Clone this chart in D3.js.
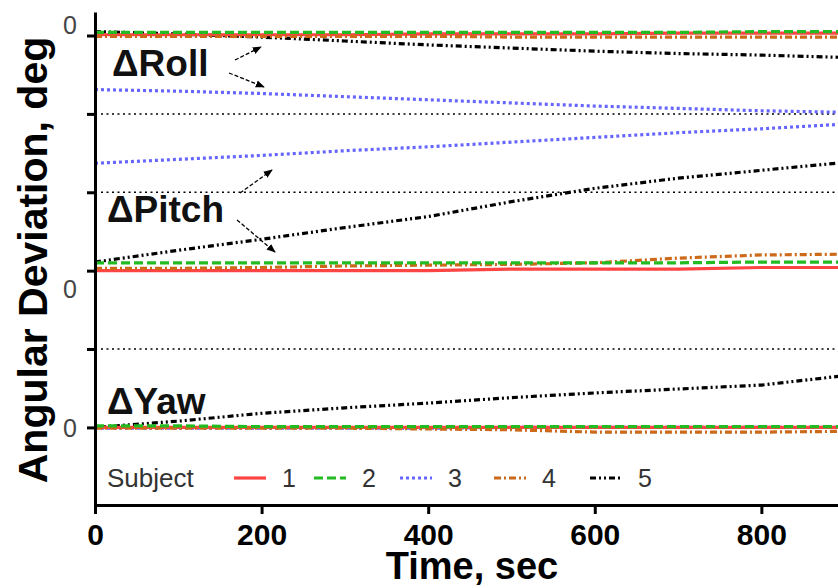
<!DOCTYPE html>
<html>
<head>
<meta charset="utf-8">
<script src="https://cdn.jsdelivr.net/npm/d3@7"></script>
<style>
  body { margin: 0; background: #fff; }
  svg { display: block; font-family: Arial, "Liberation Sans", sans-serif; }
</style>
</head>
<body>
<div id="chart"></div>
<script>
// Define SVG area size
var svgWidth = 838;
var svgHeight = 588;

// plot area (the right side is cut off in the original)
var margin = { top: 12, right: 0, bottom: 83, left: 95 };
var width = svgWidth - margin.left - margin.right;
var height = svgHeight - margin.top - margin.bottom;

// time points, sec
var times = [0, 100, 200, 300, 400, 500, 600, 700, 800, 900];

// stacked offsets: roll zero at 5, pitch zero at 2, yaw zero at 0 (1 tick = 1 unit)
var rollS1 = [5.01, 5.01, 5.01, 5.01, 5.02, 5.02, 5.02, 5.03, 5.03, 5.03];
var rollS2 = [5.04, 5.04, 5.04, 5.04, 5.04, 5.04, 5.04, 5.04, 5.05, 5.05];
var rollS3 = [4.31, 4.29, 4.26, 4.22, 4.18, 4.14, 4.10, 4.07, 4.04, 4.02];
var rollS4 = [4.99, 4.99, 4.99, 4.99, 4.99, 4.98, 4.98, 4.98, 4.98, 4.98];
var rollS5 = [5.05, 5.02, 4.98, 4.93, 4.88, 4.84, 4.80, 4.77, 4.75, 4.72];

var pitchS1 = [2.00, 2.00, 2.00, 2.00, 2.00, 2.02, 2.02, 2.02, 2.04, 2.04];
var pitchS2 = [2.10, 2.10, 2.10, 2.10, 2.10, 2.10, 2.10, 2.10, 2.11, 2.11];
var pitchS3 = [3.37, 3.42, 3.47, 3.53, 3.58, 3.64, 3.70, 3.76, 3.81, 3.87];
var pitchS4 = [2.03, 2.03, 2.04, 2.06, 2.07, 2.08, 2.10, 2.16, 2.20, 2.21];
var pitchS5 = [2.11, 2.26, 2.40, 2.55, 2.69, 2.88, 3.05, 3.18, 3.28, 3.38];

var yawS1 = [0.00, 0.00, 0.00, 0.00, 0.00, 0.00, 0.00, 0.00, 0.00, 0.00];
var yawS2 = [0.02, 0.02, 0.01, 0.01, 0.01, 0.01, 0.01, 0.01, 0.01, 0.01];
var yawS3 = [-0.01, -0.01, -0.01, -0.01, -0.01, 0.00, 0.00, 0.00, 0.00, 0.00];
var yawS4 = [-0.01, -0.01, -0.01, -0.01, -0.02, -0.03, -0.06, -0.06, -0.06, -0.05];
var yawS5 = [0.00, 0.08, 0.18, 0.25, 0.31, 0.38, 0.44, 0.49, 0.54, 0.66];

var subjects = ["1", "2", "3", "4", "5"];
var colors = ["#ff4444", "#22bb22", "#6666ff", "#cc6a1a", "#000000"];
var dashes = ["none", "9,4", "3,3", "7,3,2,3", "6,3,2,3,2,3"];

var xTicks = [0, 200, 400, 600, 800];
var yTicks = [0, 1, 2, 3, 4, 5];
var gridTicks = [1, 3, 4];
var zeroTicks = [5, 2, 0];
var zeroLabels = ["0", "0", "0"];

var allSeries = [
  [rollS1, rollS2, rollS3, rollS4, rollS5],
  [pitchS1, pitchS2, pitchS3, pitchS4, pitchS5],
  [yawS1, yawS2, yawS3, yawS4, yawS5]
];

var svg = d3.select("#chart")
  .append("svg")
  .attr("width", svgWidth)
  .attr("height", svgHeight);

var chartGroup = svg.append("g")
  .attr("transform", `translate(${margin.left}, ${margin.top})`);

var xScale = d3.scaleLinear().domain([0, 892]).range([0, width]);
var yScale = d3.scaleLinear().domain([-0.99, 5.3]).range([height, 0]);

svg.append("defs").append("clipPath").attr("id", "clip")
  .append("rect").attr("x", 0).attr("y", -5).attr("width", width).attr("height", height + 5);

// dotted grid lines
chartGroup.selectAll(".grid")
  .data(gridTicks)
  .enter()
  .append("line")
  .attr("x1", 6)
  .attr("x2", width)
  .attr("y1", d => yScale(d))
  .attr("y2", d => yScale(d))
  .attr("stroke", "#000")
  .attr("stroke-width", 1.5)
  .attr("stroke-dasharray", "2,3.5");

// lines
var line = d3.line()
  .x((d, i) => xScale(times[i]))
  .y(d => yScale(d));

var linesGroup = chartGroup.append("g").attr("clip-path", "url(#clip)");
allSeries.forEach(function(group) {
  // draw in order 5,3,1,4,2 so near-zero lines overlap like original
  [4, 2, 0, 3, 1].forEach(function(s) {
    linesGroup.append("path")
      .datum(group[s])
      .attr("d", line)
      .attr("fill", "none")
      .attr("stroke", colors[s])
      .attr("stroke-width", 3.2)
      .attr("stroke-dasharray", dashes[s]);
  });
});

// x axis
var bottomAxis = d3.axisBottom(xScale).tickValues(xTicks).tickSize(9).tickSizeOuter(0).tickPadding(10);
var xAxis = chartGroup.append("g")
  .attr("transform", `translate(0, ${height})`)
  .call(bottomAxis);
xAxis.select(".domain").attr("stroke", "#000").attr("stroke-width", 3);
xAxis.selectAll(".tick line").attr("stroke", "#000").attr("stroke-width", 3);
xAxis.selectAll("text")
  .attr("font-size", 30)
  .attr("font-weight", "bold")
  .attr("fill", "#000")
  .attr("font-family", "Arial, 'Liberation Sans', sans-serif");

// y axis
var leftAxis = d3.axisLeft(yScale).tickValues(yTicks).tickSize(8).tickSizeOuter(0).tickFormat("");
var yAxis = chartGroup.append("g").call(leftAxis);
yAxis.select(".domain").attr("stroke", "#000").attr("stroke-width", 3);
yAxis.selectAll(".tick line").attr("stroke", "#000").attr("stroke-width", 3);

// zero labels for each block
var zeroOffsets = [-10, 19, 1];
chartGroup.selectAll(".zero")
  .data(zeroTicks)
  .enter()
  .append("text")
  .attr("x", -18)
  .attr("y", (d, i) => yScale(d) + zeroOffsets[i])
  .attr("dy", "0.35em")
  .attr("text-anchor", "end")
  .attr("font-size", 25)
  .attr("fill", "#444")
  .text((d, i) => zeroLabels[i]);

// axis titles
svg.append("text")
  .attr("x", 472)
  .attr("y", 579)
  .attr("text-anchor", "middle")
  .attr("font-size", 38)
  .attr("font-weight", "bold")
  .text("Time, sec");

svg.append("text")
  .attr("transform", "translate(47, 260) rotate(-90)")
  .attr("text-anchor", "middle")
  .attr("font-size", 41)
  .attr("font-weight", "bold")
  .text("Angular Deviation, deg");

// annotations
var labels = [
  { text: "\u0394Roll", x: 112, y: 76 },
  { text: "\u0394Pitch", x: 107, y: 222 },
  { text: "\u0394Yaw", x: 107, y: 414 }
];
svg.selectAll(".ann")
  .data(labels)
  .enter()
  .append("text")
  .attr("x", d => d.x)
  .attr("y", d => d.y)
  .attr("font-size", 37)
  .attr("font-weight", "bold")
  .attr("fill", "#111")
  .text(d => d.text);

svg.select("defs").append("marker")
  .attr("id", "arrow")
  .attr("viewBox", "0 0 10 10")
  .attr("refX", 9).attr("refY", 5)
  .attr("markerWidth", 7).attr("markerHeight", 7)
  .attr("orient", "auto")
  .append("path").attr("d", "M0,1L10,5L0,9Z").attr("fill", "#000");

var arrows = [
  [235, 60, 261, 47],
  [229, 73, 264, 87],
  [240, 193, 272, 170],
  [237, 220, 275, 252]
];
svg.selectAll(".arrow")
  .data(arrows)
  .enter()
  .append("line")
  .attr("x1", d => d[0]).attr("y1", d => d[1])
  .attr("x2", d => d[2]).attr("y2", d => d[3])
  .attr("stroke", "#000")
  .attr("stroke-width", 1.3)
  .attr("stroke-dasharray", "4,2")
  .attr("marker-end", "url(#arrow)");

// legend
var legend = svg.append("g");
legend.append("text")
  .attr("x", 107).attr("y", 487)
  .attr("font-size", 26)
  .attr("fill", "#333")
  .text("Subject");

var legX = [234, 314, 400, 494, 590];
subjects.forEach(function(s, i) {
  legend.append("line")
    .attr("x1", legX[i]).attr("x2", legX[i] + 32)
    .attr("y1", 478).attr("y2", 478)
    .attr("stroke", colors[i])
    .attr("stroke-width", 3.2)
    .attr("stroke-dasharray", dashes[i]);
  legend.append("text")
    .attr("x", legX[i] + 48).attr("y", 487)
    .attr("font-size", 25)
    .attr("fill", "#333")
    .text(s);
});
</script>
</body>
</html>
